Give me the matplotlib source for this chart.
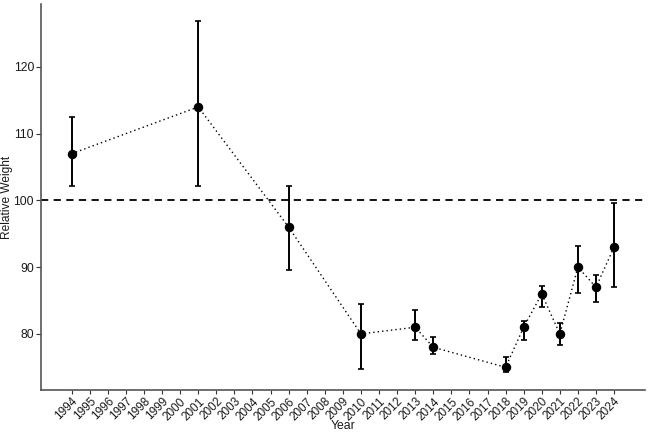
import matplotlib
matplotlib.use("Agg")
import matplotlib.pyplot as plt
import matplotlib.transforms as mtransforms
import numpy as np

plt.rcParams['font.family'] = ['Liberation Sans', 'DejaVu Sans']

all_years = [str(y) for y in range(1994, 2025)]
years = [1994, 2001, 2006, 2010, 2013, 2014, 2018, 2019, 2020, 2021, 2022, 2023, 2024]
weight = [107, 114, 96, 80, 81, 78, 75, 81, 86, 80, 90, 87, 93]
upper = [112.5, 126.9, 102.2, 84.5, 83.6, 79.5, 76.5, 81.9, 87.2, 81.6, 93.1, 88.8, 99.6]
lower = [102.2, 102.2, 89.6, 74.7, 79.1, 77.0, 74.3, 79.1, 84.1, 78.3, 86.2, 84.85, 87.1]
reference_level = 100

fig = plt.figure(figsize=(6.5, 4.38), dpi=100)
ax = fig.add_axes([0.063, 0.1096, 0.929, 0.881])

xpos = np.array([all_years.index(str(y)) for y in years])
w = np.array(weight)
yerr = np.vstack([w - np.array(lower), np.array(upper) - w])

ax.axhline(reference_level, color='black', linestyle=(0, (4, 3)), linewidth=1.3, zorder=1)
ax.plot(xpos, w, linestyle=(0, (1, 2.2)), color='black', linewidth=1.0, zorder=2)
ax.errorbar(xpos, w, yerr=yerr, fmt='none', ecolor='black', elinewidth=1.4,
            capsize=2.2, capthick=1.2, zorder=3)
ax.plot(xpos, w, 'o', color='black', markersize=5.8, zorder=4)

ax.set_xlim(-1.7, len(all_years) - 1 + 1.7)
ax.set_ylim(71.6, 129.4)
ax.set_xticks(range(len(all_years)))
ax.set_xticklabels(all_years, rotation=45, ha='right', rotation_mode='anchor', fontsize=8.5, color='#1a1a1a')
offset = mtransforms.ScaledTranslation(5 / 100, 0, fig.dpi_scale_trans)
for lbl in ax.get_xticklabels():
    lbl.set_transform(lbl.get_transform() + offset)
ax.set_yticks([80, 90, 100, 110, 120])
ax.tick_params(axis='y', labelsize=8.8, labelcolor='#1a1a1a', length=3.5, color='#333333', width=0.8, pad=1.5)
ax.tick_params(axis='x', length=3, color='#333333', width=0.8, pad=1.0)

for s in ['top', 'right']:
    ax.spines[s].set_visible(False)
for s in ['left', 'bottom']:
    ax.spines[s].set_color('#555555')
    ax.spines[s].set_linewidth(1.2)

ax.set_xlabel('Year', fontsize=8.8, color='#1a1a1a')
ax.xaxis.set_label_coords(0.5, -0.078)
ax.set_ylabel('Relative Weight', fontsize=8.6, color='#1a1a1a')
ax.yaxis.set_label_coords(-0.047, 0.5)

fig.savefig('out.png', dpi=100)
